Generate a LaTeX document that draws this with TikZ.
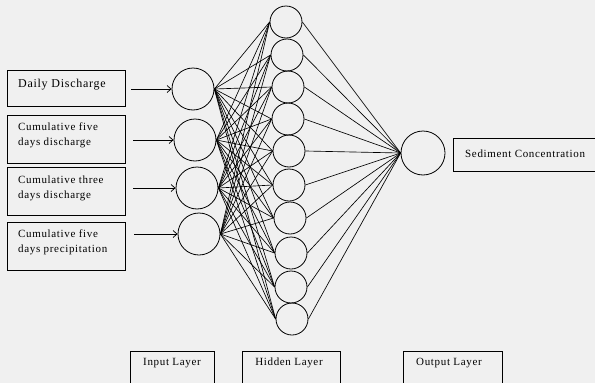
\documentclass[tikz,border=0pt]{standalone}
\usepackage{fontspec}
\setmainfont{Liberation Serif}[LetterSpace=6]
\usetikzlibrary{arrows.meta}
\begin{document}
\begin{tikzpicture}[x=1pt,y=-1pt,
  neuron/.style={draw,circle,line width=0.8pt,inner sep=0pt},
  inbox/.style={draw,line width=0.8pt,rectangle,anchor=north west,inner sep=0pt},
  intext/.style={anchor=west,align=left,inner sep=0pt,font=\fontsize{11}{15}\selectfont},
  lbox/.style={draw,line width=0.8pt,anchor=north west,minimum height=50pt,inner sep=0pt},
  ltext/.style={font=\fontsize{11}{13}\selectfont},
  wire/.style={line width=0.65pt},
  arr/.style={line width=0.75pt,->,>={Straight Barb[length=4pt,width=7pt]}}]
\useasboundingbox[fill=black!6] (0,0) rectangle (595,383);
\clip (0,0) rectangle (595,383);
% input boxes
\node[inbox,minimum width=118pt,minimum height=36pt] (b1) at (7,70) {};
\node[intext,font=\fontsize{12}{14}\selectfont] (t1) at (18,85) {Daily Discharge};
\node[inbox,minimum width=118pt,minimum height=48pt] (b2) at (7,115) {};
\node[intext] (t2) at (18,135) {Cumulative five\\days discharge};
\node[inbox,minimum width=118pt,minimum height=48pt] (b3) at (7,167) {};
\node[intext] (t3) at (18,188) {Cumulative three\\days discharge};
\node[inbox,minimum width=118pt,minimum height=48pt] (b4) at (7,222) {};
\node[intext] (t4) at (18,242) {Cumulative five\\days precipitation};
% input neurons
\node[neuron,minimum size=42pt] (i1) at (193,89) {};
\node[neuron,minimum size=42pt] (i2) at (195,140) {};
\node[neuron,minimum size=42pt] (i3) at (197,188) {};
\node[neuron,minimum size=42pt] (i4) at (199,234) {};
% arrows
\coordinate (a1) at (131,89);
\coordinate (a2) at (133,140);
\coordinate (a3) at (133,188);
\coordinate (a4) at (134,234);
\draw[arr] (a1) -- (i1.west);
\draw[arr] (a2) -- (i2.west);
\draw[arr] (a3) -- (i3.west);
\draw[arr] (a4) -- (i4.west);
% hidden neurons
\foreach \k/\x/\y in {1/286/22,2/287/55,3/288/87,4/288/119,5/289/151,6/289/185,7/290/218,8/291/253,9/291/287,10/292/319}
  \node[neuron,minimum size=32pt] (h\k) at (\x,\y) {};
% output neuron
\node[neuron,minimum size=44pt] (o) at (423,153) {};
% connections
\foreach \i in {1,...,4}
  \foreach \k in {1,...,10}
    \draw[wire] (i\i.east) -- (h\k.west);
\foreach \k in {1,...,10}
  \draw[wire] (h\k.east) -- (o.west);
% output box
\node[draw,line width=0.8pt,anchor=north west,minimum width=150pt,minimum height=33pt,inner sep=0pt] (ob) at (453,138) {};
\node[anchor=west,inner sep=0pt,font=\fontsize{11}{13}\selectfont] (ot) at (465,154) {Sediment Concentration};
% layer boxes
\node[lbox,minimum width=84pt] (lb1) at (130,351) {};
\node[ltext] (lt1) at (172,363) {Input Layer};
\node[lbox,minimum width=98pt] (lb2) at (242,351) {};
\node[ltext] (lt2) at (289,363) {Hidden Layer};
\node[lbox,minimum width=99pt] (lb3) at (403,351) {};
\node[ltext] (lt3) at (449,363) {Output Layer};
\end{tikzpicture}
\end{document}
